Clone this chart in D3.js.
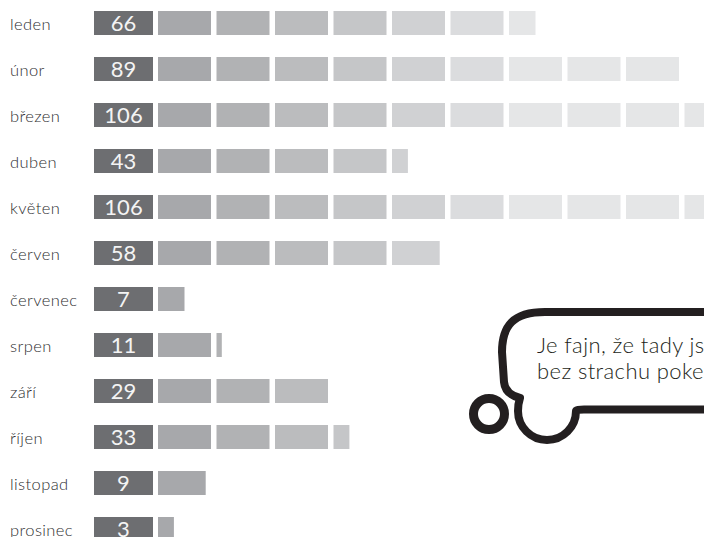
<!DOCTYPE html>
<html>
<head>
<meta charset="utf-8">
<script src="https://cdn.jsdelivr.net/npm/d3@7"></script>
<style>
  body { margin: 0; background: #fff; overflow: hidden; }
  svg { display: block; }
</style>
</head>
<body>
<script>
// monthly counts (printed) and bar lengths as drawn, one gray block per 10 units
var months = ['leden', 'únor', 'březen', 'duben', 'květen', 'červen',
              'červenec', 'srpen', 'září', 'říjen', 'listopad', 'prosinec']
var values = [66, 89, 106, 43, 106, 58, 7, 11, 29, 33, 9, 3]
var barValues = [65, 90, 106, 43, 106, 49, 5, 11, 30, 33, 9, 3]
var unitsPerBlock = 10
var bubbleLines = ['Je fajn, že tady js', 'bez strachu poke']

var svgWidth = 704, svgHeight = 537
var blockColors = ['#a7a8ab', '#b1b2b4', '#bbbcbe', '#c5c6c8', '#d0d1d3',
                   '#dbdcde', '#e5e6e7']

var svg = d3.select('body').append('svg')
    .attr('width', svgWidth)
    .attr('height', svgHeight)

var yScale = d3.scaleBand()
    .domain(months)
    .range([0, 46 * months.length])

var barTop = 11, barH = 24

// start of each block (pitch) and width of a block
var blockX = d3.scaleLinear().domain([0, unitsPerBlock]).range([158, 216.5])
var blockW = d3.scaleLinear().domain([0, unitsPerBlock]).range([0, 53])

var data = months.map(function(m, i) {
  return {month: m, value: values[i], bar: barValues[i]}
})

var rows = svg.selectAll('g.row')
    .data(data)
    .enter().append('g')
      .attr('class', 'row')
      .attr('transform', function(d) { return 'translate(0,' + (yScale(d.month) + barTop) + ')' })

rows.append('text')
    .attr('x', 10)
    .attr('y', 19)
    .attr('font-family', 'Lato, sans-serif')
    .attr('font-weight', 300)
    .attr('font-size', 16.5)
    .attr('letter-spacing', 0.4)
    .attr('fill', '#2e2e30')
    .text(function(d) { return d.month })

rows.append('rect')
    .attr('x', 94)
    .attr('width', 59)
    .attr('height', barH)
    .attr('fill', '#6d6e71')

rows.append('text')
    .attr('x', 123.5)
    .attr('y', 20)
    .attr('text-anchor', 'middle')
    .attr('font-family', 'Lato, sans-serif')
    .attr('font-size', 22)
    .attr('fill', '#f4f4f4')
    .text(function(d) { return d.value })

rows.selectAll('rect.block')
    .data(function(d) {
      var n = Math.ceil(d.bar / unitsPerBlock)
      return d3.range(n).map(function(k) {
        return {k: k, units: Math.min(unitsPerBlock, d.bar - k * unitsPerBlock)}
      })
    })
    .enter().append('rect')
      .attr('class', 'block')
      .attr('x', function(b) { return blockX(b.k * unitsPerBlock) })
      .attr('width', function(b) { return blockW(b.units) })
      .attr('height', barH)
      .attr('fill', function(b) { return blockColors[Math.min(b.k, blockColors.length - 1)] })

// speech bubble
var bubble = svg.append('g')

bubble.append('path')
    .attr('d', 'M 720 312 L 545 312 C 513 312 502 326 502 352 ' +
               'L 504 382 C 505 392 512 396 520 398 ' +
               'C 518 404 518 408 518 411 ' +
               'A 29 29 0 0 0 576 411 ' +
               'Q 576 409.5 584 409.5 L 720 409.5')
    .attr('fill', 'none')
    .attr('stroke', '#231f20')
    .attr('stroke-width', 8)
    .attr('stroke-linejoin', 'round')

bubble.append('circle')
    .attr('cx', 489)
    .attr('cy', 414)
    .attr('r', 15.5)
    .attr('fill', 'none')
    .attr('stroke', '#231f20')
    .attr('stroke-width', 9)

bubble.selectAll('text')
    .data(bubbleLines)
    .enter().append('text')
      .attr('x', 537)
      .attr('y', function(d, i) { return 353 + i * 26 })
      .attr('font-family', 'Lato, sans-serif')
      .attr('font-weight', 300)
      .attr('font-size', 22)
      .attr('letter-spacing', 0.4)
      .attr('fill', '#231f20')
      .text(function(d) { return d })
</script>
</body>
</html>
